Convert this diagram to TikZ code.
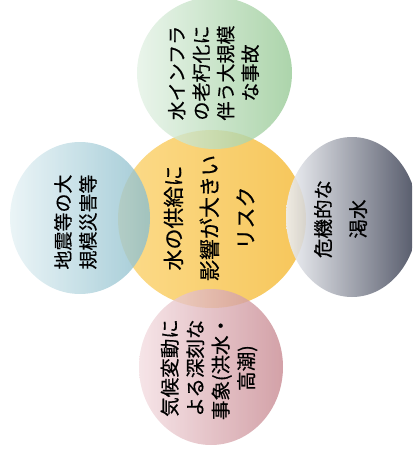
\documentclass[tikz,border=0pt]{standalone}
\usepackage{fontspec}
\newfontfamily\jpfont[FakeBold=0.5]{Noto Sans CJK JP}
\begin{document}
\begin{tikzpicture}[x=1pt,y=-1pt,
  bubble/.style={fill opacity=0.8},
  lbl/.style={rotate=90, align=center, inner sep=0pt, text=black},
  outerlbl/.style={lbl, font=\jpfont\fontsize{19}{25}\selectfont},
]
\useasboundingbox (0,0) rectangle (412,452);
\clip (0,0) rectangle (412,452);
% centre
\path[left color={rgb,255:red,252;green,219;blue,138}, right color={rgb,255:red,246;green,198;blue,90}]
  (212,219) ellipse [x radius=94pt, y radius=89pt];
% top (green)
\path[bubble, left color={rgb,255:red,228;green,242;blue,230}, right color={rgb,255:red,152;green,202;blue,150}]
  (214.5,73) ellipse [x radius=77.5pt, y radius=76pt];
% left (blue)
\path[bubble, left color={rgb,255:red,230;green,242;blue,245}, right color={rgb,255:red,140;green,190;blue,204}]
  (80,218) ellipse [x radius=70pt, y radius=76pt];
% right (grey)
\path[bubble, fill opacity=0.88, left color={rgb,255:red,238;green,240;blue,244}, right color={rgb,255:red,60;green,65;blue,84}]
  (352,217) ellipse [x radius=66pt, y radius=80pt];
% bottom (pink)
\path[bubble, left color={rgb,255:red,244;green,222;blue,226}, right color={rgb,255:red,200;green,138;blue,146}]
  (211,367) ellipse [x radius=72pt, y radius=78pt];

\node[lbl, font=\jpfont\fontsize{21}{36}\selectfont] (centre) at (209,218)
  {水の供給に\\影響が大きい\\リスク};
\node[outerlbl, font=\jpfont\fontsize{19}{24.5}\selectfont] (top) at (213.5,73)
  {水インフラ\\の老朽化に\\伴う大規模\\な事故};
\node[outerlbl] (left) at (75.5,222)
  {地震等の大\\規模災害等};
\node[outerlbl, font=\jpfont\fontsize{19.5}{35}\selectfont] (right) at (340.5,219)
  {危機的な\\渇水};
\node[outerlbl, font=\jpfont\fontsize{19.5}{25.5}\selectfont] (bottom) at (209,368)
  {気候変動に\\よる深刻な\\事象(洪水・\\高潮)};
\end{tikzpicture}
\end{document}
